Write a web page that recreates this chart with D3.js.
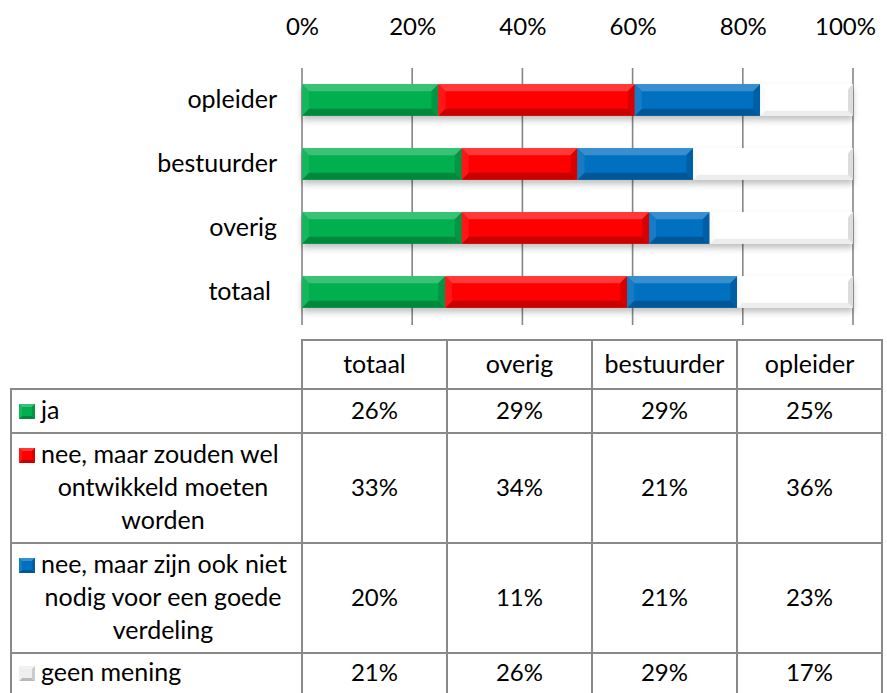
<!DOCTYPE html>
<html>
<head>
<meta charset="utf-8">
<script src="https://d3js.org/d3.v7.min.js"></script>
<style>
  body { margin: 0; background: #fff; font-family: Lato, "Open Sans", sans-serif; }
  svg text { fill: #000; }
</style>
</head>
<body>
<div id="chart"></div>
<script>
// categories top to bottom in the chart
var categories = ["opleider", "bestuurder", "overig", "totaal"];
// column order in the data table
var tableColumns = ["totaal", "overig", "bestuurder", "opleider"];
var seriesNames = ["ja", "nee, maar zouden wel ontwikkeld moeten worden",
                   "nee, maar zijn ook niet nodig voor een goede verdeling", "geen mening"];
// legend label lines as wrapped in the table
var seriesLines = [["ja"], ["nee, maar zouden wel", "ontwikkeld moeten", "worden"],
                   ["nee, maar zijn ook niet", "nodig voor een goede", "verdeling"], ["geen mening"]];
var seriesColors = ["#00B050", "#FF0000", "#0070C0", "#FFFFFF"];
// values per series, in tableColumns order (totaal, overig, bestuurder, opleider)
var ja = [26, 29, 29, 25];
var neeWel = [33, 34, 21, 36];
var neeNiet = [20, 11, 21, 23];
var geenMening = [21, 26, 29, 17];
var seriesValues = [ja, neeWel, neeNiet, geenMening];
var tickValues = [0, 0.2, 0.4, 0.6, 0.8, 1];

var W = 887, H = 693;
var wordSize = 25, numSize = 24;
var svg = d3.select("#chart").append("svg").attr("width", W).attr("height", H);

var defs = svg.append("defs");
var f = defs.append("filter").attr("id", "shadow").attr("x", "-5%").attr("y", "-30%").attr("width", "110%").attr("height", "180%");
f.append("feDropShadow").attr("dx", 0).attr("dy", 4).attr("stdDeviation", 3)
  .attr("flood-color", "#000").attr("flood-opacity", 0.25);

// table rows for stacking
var rows = categories.map(function(c) {
  var i = tableColumns.indexOf(c);
  var r = { cat: c };
  seriesNames.forEach(function(s, k) { r[s] = seriesValues[k][i]; });
  return r;
});
var stack = d3.stack().keys(seriesNames).offset(d3.stackOffsetExpand);
var stacked = stack(rows);

var x = d3.scaleLinear().domain([0, 1]).range([302, 853]);
var y = d3.scaleBand().domain(categories).range([68, 324]).paddingInner(0.51).paddingOuter(0.255);

// grid lines
var grid = svg.append("g");
grid.selectAll("line").data(tickValues).join("line")
  .attr("x1", function(d) { return x(d); }).attr("x2", function(d) { return x(d); })
  .attr("y1", 68).attr("y2", 325)
  .attr("stroke", "#868686").attr("stroke-width", 1.6);

// top axis labels
var xAxis = d3.axisTop(x).tickValues(tickValues).tickFormat(d3.format(".0%")).tickSize(0).tickPadding(0);
var ax = svg.append("g").attr("transform", "translate(0,35)").call(xAxis);
ax.select(".domain").remove();
ax.selectAll("text").attr("font-size", numSize).attr("font-family", "Lato, 'Open Sans', sans-serif").attr("fill", "#000").attr("dy", 0)
  .attr("dx", function(d) { return d === 1 ? -8 : 0; });

// bevelled segment
function bevel(g, x0, y0, w, h, color, b) {
  var isWhite = color.toUpperCase() === "#FFFFFF";
  var top = isWhite ? "#ffffff" : d3.interpolateRgb(color, "#ffffff")(0.22);
  var bottom = isWhite ? "#ededed" : d3.rgb(color).darker(0.7).formatHex();
  var left = isWhite ? "#fbfbfb" : d3.interpolateRgb(color, "#ffffff")(0.08);
  var right = isWhite ? "#dcdcdc" : d3.rgb(color).darker(0.45).formatHex();
  g.append("rect").attr("x", x0).attr("y", y0).attr("width", w).attr("height", h).attr("fill", color);
  var x1 = x0 + w, y1 = y0 + h;
  g.append("path").attr("d", "M" + x0 + "," + y0 + "L" + x1 + "," + y0 + "L" + (x1 - b) + "," + (y0 + b) + "L" + (x0 + b) + "," + (y0 + b) + "Z").attr("fill", top);
  g.append("path").attr("d", "M" + x0 + "," + y1 + "L" + x1 + "," + y1 + "L" + (x1 - b) + "," + (y1 - b) + "L" + (x0 + b) + "," + (y1 - b) + "Z").attr("fill", bottom);
  g.append("path").attr("d", "M" + x0 + "," + y0 + "L" + (x0 + b) + "," + (y0 + b) + "L" + (x0 + b) + "," + (y1 - b) + "L" + x0 + "," + y1 + "Z").attr("fill", left);
  g.append("path").attr("d", "M" + x1 + "," + y0 + "L" + (x1 - b) + "," + (y0 + b) + "L" + (x1 - b) + "," + (y1 - b) + "L" + x1 + "," + y1 + "Z").attr("fill", right);
}

// bars
var bars = svg.append("g");
categories.forEach(function(c, ci) {
  var bg = bars.append("g").attr("filter", "url(#shadow)");
  stacked.forEach(function(layer, k) {
    var d = layer[ci];
    var x0 = x(d[0]), x1 = x(d[1]);
    bevel(bg, x0, y(c), x1 - x0, y.bandwidth(), seriesColors[k], k === 3 ? 5 : 7);
  });
});

// category labels
svg.append("g").selectAll("text").data(categories).join("text")
  .attr("x", function(d) { return d === "totaal" ? 271 : 277; })
  .attr("y", function(d) { return y(d) + y.bandwidth() / 2 + 8; })
  .attr("text-anchor", "end").attr("font-size", wordSize).text(function(d) { return d; });

// data table
var colX = d3.scaleBand().domain(tableColumns).range([302, 882]);
var rowEdges = [340, 389, 433, 543, 653, 697];
var lineGap = 33;
var tbl = svg.append("g");
var stroke = "#898989", sw = 2;

// header cells
tableColumns.forEach(function(c) {
  tbl.append("rect").attr("x", colX(c)).attr("y", rowEdges[0]).attr("width", colX.bandwidth()).attr("height", rowEdges[1] - rowEdges[0])
    .attr("fill", "none").attr("stroke", stroke).attr("stroke-width", sw);
  tbl.append("text").attr("x", colX(c) + colX.bandwidth() / 2).attr("y", (rowEdges[0] + rowEdges[1]) / 2 + 8)
    .attr("text-anchor", "middle").attr("font-size", wordSize).text(c);
});

seriesNames.forEach(function(s, k) {
  var r0 = rowEdges[k + 1], r1 = rowEdges[k + 2];
  var mid = k === 3 ? 673 : (r0 + r1) / 2;
  tbl.append("rect").attr("x", 11).attr("y", r0).attr("width", 302 - 11).attr("height", r1 - r0)
    .attr("fill", "none").attr("stroke", stroke).attr("stroke-width", sw);
  tableColumns.forEach(function(c, i) {
    tbl.append("rect").attr("x", colX(c)).attr("y", r0).attr("width", colX.bandwidth()).attr("height", r1 - r0)
      .attr("fill", "none").attr("stroke", stroke).attr("stroke-width", sw);
    tbl.append("text").attr("x", colX(c) + colX.bandwidth() / 2).attr("y", mid + 8)
      .attr("text-anchor", "middle").attr("font-size", numSize).text(seriesValues[k][i] + "%");
  });
  var lines = seriesLines[k];
  var c0 = mid - (lines.length - 1) * lineGap / 2;
  // legend key
  var key = tbl.append("g");
  bevel(key, 19, c0 - 7, 16, 15, seriesColors[k] === "#FFFFFF" ? "#EEEEEE" : seriesColors[k], 3);
  lines.forEach(function(t, li) {
    tbl.append("text")
      .attr("x", li === 0 ? 41 : 163)
      .attr("y", c0 + li * lineGap + 8)
      .attr("text-anchor", li === 0 ? "start" : "middle")
      .attr("font-size", wordSize).text(t);
  });
});
</script>
</body>
</html>
